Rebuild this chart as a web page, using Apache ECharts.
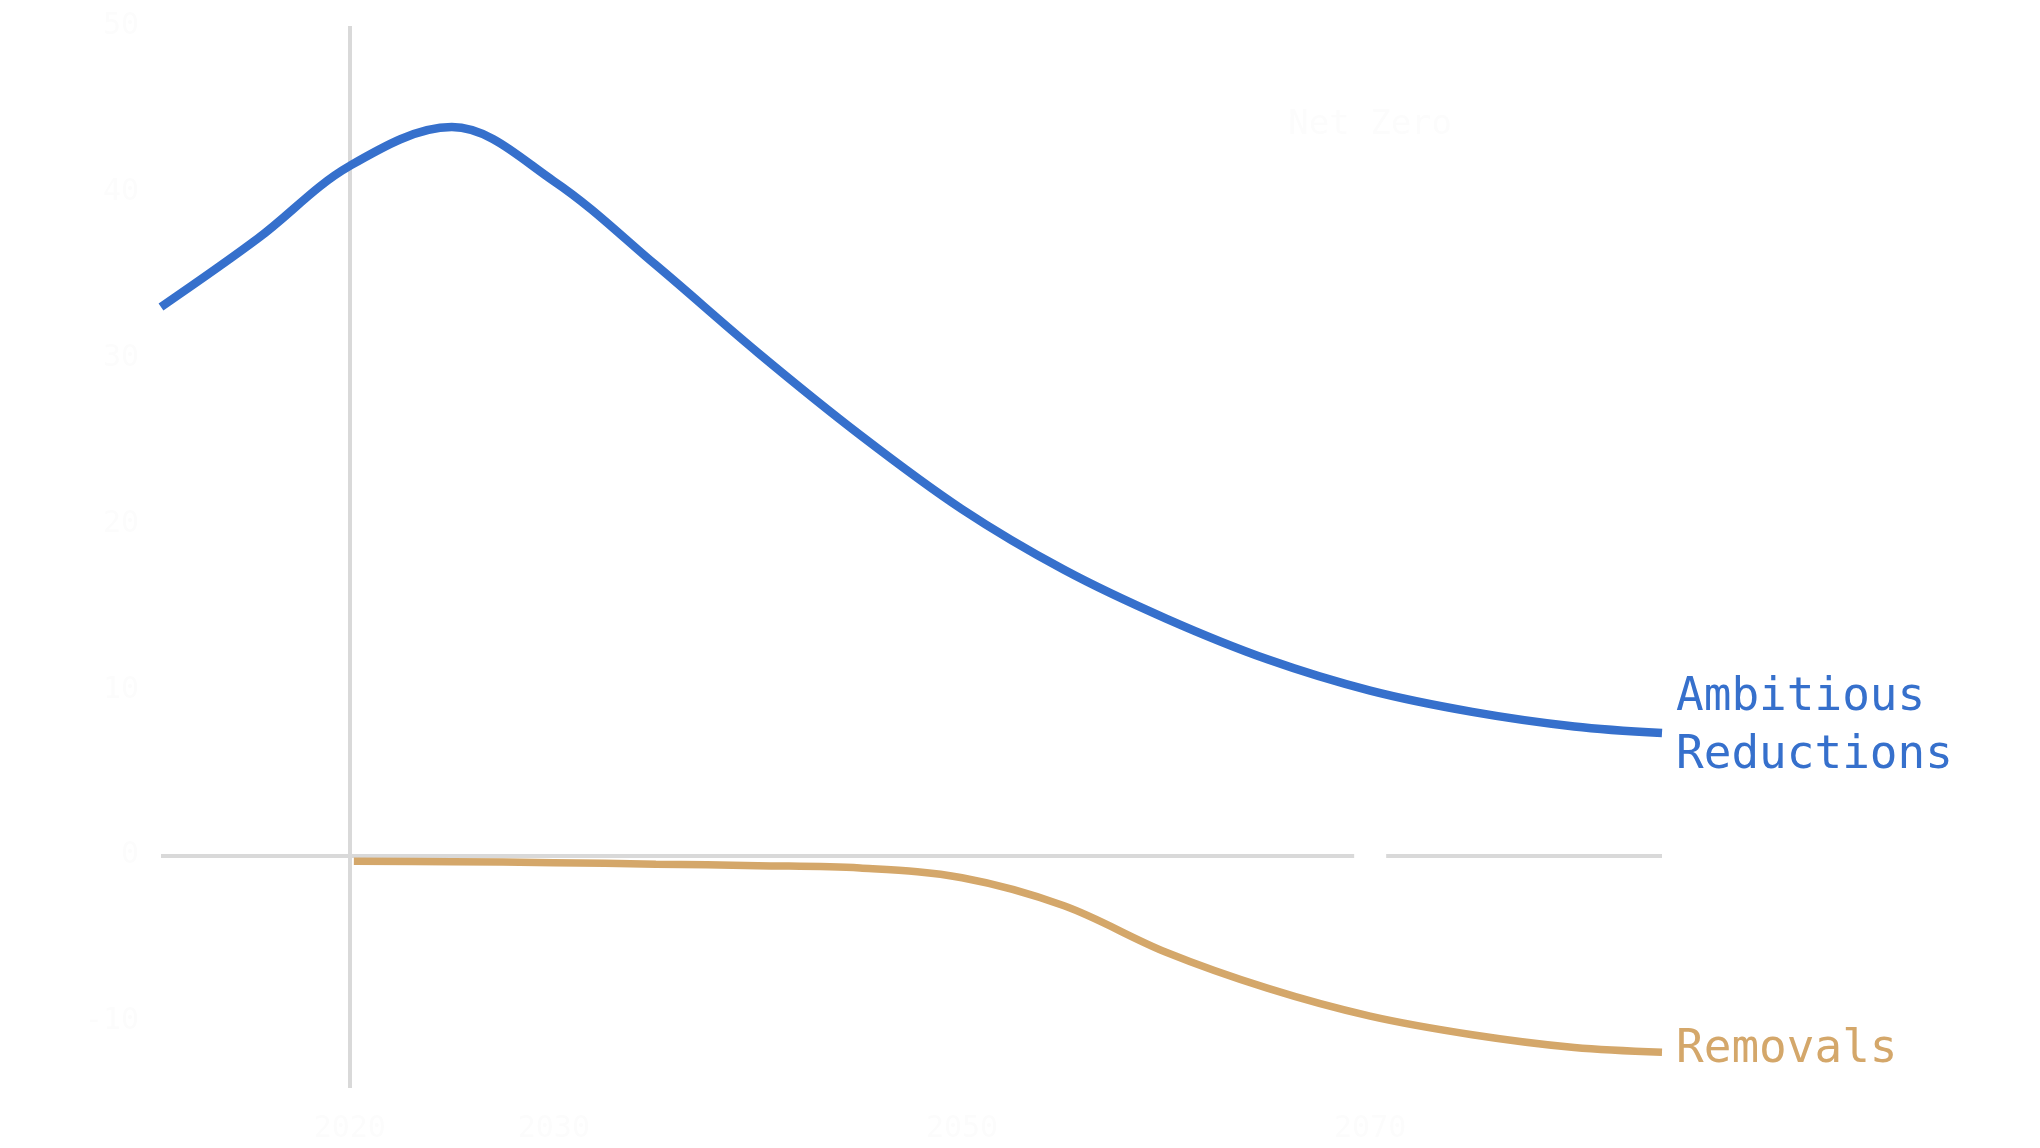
<!DOCTYPE html>
<html>
<head>
<meta charset="utf-8">
<script src="https://cdn.jsdelivr.net/npm/echarts@6/dist/echarts.min.js"></script>
<style>
  html, body { margin: 0; padding: 0; background: #ffffff; }
  #chart { width: 2040px; height: 1148px; }
</style>
</head>
<body>
<div id="chart"></div>
<script>
// ---- data (years, emissions units) ----
const reductionYears = [2010.75, 2015.5, 2020, 2025, 2030, 2035, 2040, 2045, 2050, 2055, 2060, 2065, 2070, 2075, 2080, 2084.3];
const reductionValues = [33.07, 37.2, 41.57, 43.91, 40.65, 35.59, 30.31, 25.36, 20.88, 17.23, 14.29, 11.82, 9.95, 8.67, 7.79, 7.39];

const removalYears = [2020.2, 2025, 2030, 2035, 2040, 2045, 2050, 2055, 2060, 2065, 2070, 2075, 2080, 2084.3];
const removalValues = [-0.33, -0.36, -0.42, -0.51, -0.60, -0.74, -1.33, -3.02, -5.82, -8.00, -9.67, -10.79, -11.56, -11.84];

const xTickLabels = [2020, 2030, 2050, 2070];
const yTickLabels = [-10, 0, 10, 20, 30, 40, 50];
const seriesNames = ['Ambitious Reductions', 'Removals'];
const endLabels = ['Ambitious\nReductions', 'Removals'];
const netZeroYear = 2070;
const netZeroText = 'Net Zero';
const baseYear = 2020;

const BLUE = '#3670cc';
const GOLD = '#d4a76a';
const GRID = '#d9d9d9';
const GHOST = '#fcfcfc';
const MONO = '"DejaVu Sans Mono", "Liberation Mono", monospace';

function pairs(xs, ys) { return xs.map((x, i) => [x, ys[i]]); }

const chart = echarts.init(document.getElementById('chart'), null, { renderer: 'canvas' });

chart.setOption({
  animation: false,
  backgroundColor: '#ffffff',
  grid: { left: 161, right: 378, top: 26, bottom: 60, containLabel: false },
  xAxis: {
    type: 'value',
    min: 2010.75,
    max: 2084.3,
    axisLine: { show: false },
    axisTick: { show: false },
    splitLine: { show: false },
    axisLabel: {
      customValues: xTickLabels,
      color: GHOST,
      fontFamily: MONO,
      fontSize: 30,
      margin: 26,
      formatter: v => String(v)
    }
  },
  yAxis: {
    type: 'value',
    min: -14,
    max: 50,
    axisLine: { show: false },
    axisTick: { show: false },
    splitLine: { show: false },
    axisLabel: {
      customValues: yTickLabels,
      color: GHOST,
      fontFamily: MONO,
      fontSize: 30,
      margin: 22
    }
  },
  series: [
    {
      name: 'axes',
      type: 'line',
      data: [],
      silent: true,
      markLine: {
        silent: true,
        z: 1,
        symbol: ['none', 'none'],
        label: { show: false },
        lineStyle: { color: GRID, width: 4, type: 'solid' },
        emphasis: { disabled: true },
        data: [
          { xAxis: baseYear },
          { yAxis: 0 }
        ]
      },
      markPoint: {
        silent: true,
        z: 3,
        symbol: 'rect',
        symbolSize: 0,
        data: [
          {
            coord: [netZeroYear, 0],
            label: {
              show: true, formatter: ' ', backgroundColor: '#ffffff',
              width: 32, height: 10, padding: 0, position: 'inside'
            }
          },
          {
            coord: [netZeroYear, 44],
            label: {
              show: true, formatter: netZeroText, color: GHOST,
              fontFamily: MONO, fontSize: 34, position: 'inside'
            }
          }
        ]
      }
    },
    {
      name: seriesNames[0],
      type: 'line',
      z: 3,
      data: pairs(reductionYears, reductionValues),
      smooth: 0.35,
      showSymbol: false,
      symbol: 'none',
      lineStyle: { color: BLUE, width: 8.5, cap: 'butt' },
      itemStyle: { color: BLUE },
      endLabel: {
        show: true,
        formatter: endLabels[0],
        color: BLUE,
        fontFamily: MONO,
        fontSize: 46,
        lineHeight: 58,
        distance: 14,
        offset: [0, -6]
      }
    },
    {
      name: seriesNames[1],
      type: 'line',
      z: 3,
      data: pairs(removalYears, removalValues),
      smooth: 0.35,
      showSymbol: false,
      symbol: 'none',
      lineStyle: { color: GOLD, width: 7.5, cap: 'butt' },
      itemStyle: { color: GOLD },
      endLabel: {
        show: true,
        formatter: endLabels[1],
        color: GOLD,
        fontFamily: MONO,
        fontSize: 46,
        lineHeight: 58,
        distance: 14,
        offset: [0, -2]
      }
    }
  ]
});
</script>
</body>
</html>
